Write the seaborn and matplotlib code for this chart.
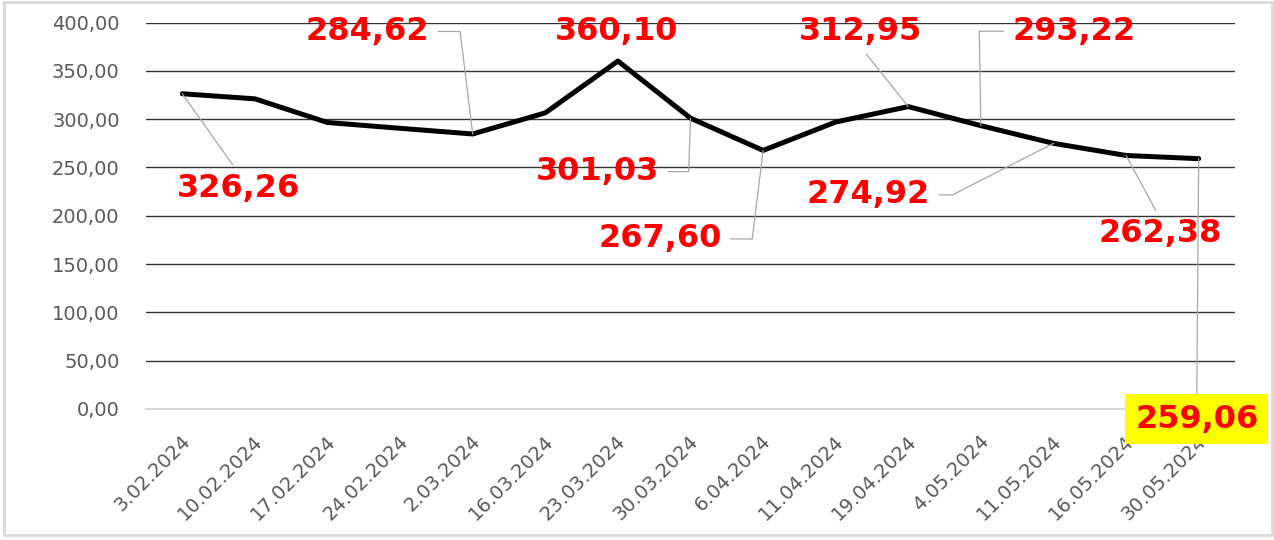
import matplotlib
matplotlib.use('Agg')
import matplotlib.pyplot as plt
import matplotlib.transforms as mtransforms
from matplotlib.patches import Rectangle
import seaborn as sns

# data
dates = ["3.02.2024", "10.02.2024", "17.02.2024", "24.02.2024", "2.03.2024",
         "16.03.2024", "23.03.2024", "30.03.2024", "6.04.2024", "11.04.2024",
         "19.04.2024", "4.05.2024", "11.05.2024", "16.05.2024", "30.05.2024"]
prices = [326.26, 321.0, 296.5, 290.5, 284.62,
          306.5, 360.10, 301.03, 267.60, 297.0,
          312.95, 293.22, 274.92, 262.38, 259.06]
yticks = [0, 50, 100, 150, 200, 250, 300, 350, 400]

# which points get a value label
labeled = [0, 4, 6, 7, 8, 10, 11, 12, 13, 14]

# label placement (pixel offsets of text baseline-centre from the point) and leader style
label_style = {
    0:  dict(off=(56, -103), relpos=(0.5, 1.0), conn="arc3"),
    4:  dict(off=(-105, 94), relpos=(1.0, 0.5), conn="angle,angleA=0,angleB=97,rad=0"),
    6:  dict(off=(-1, 21), relpos=None, conn=None),
    7:  dict(off=(-93, -62), relpos=(1.0, 0.5), conn="angle,angleA=0,angleB=88,rad=0"),
    8:  dict(off=(-103, -97), relpos=(1.0, 0.5), conn="angle,angleA=0,angleB=83,rad=0"),
    10: dict(off=(-48, 67), relpos=(0.5, 0.0), conn="arc3"),
    11: dict(off=(93, 86), relpos=(0.0, 0.5), conn="angle,angleA=0,angleB=91,rad=0"),
    12: dict(off=(-185, -60), relpos=(1.0, 0.5), conn="angle,angleA=0,angleB=27,rad=0"),
    13: dict(off=(34, -87), relpos=(0.5, 1.0), conn="arc3"),
    14: dict(off=(-2, -269), relpos=(0.5, 1.0), conn="arc3"),
}

sns.set_style('white')
plt.rcParams['font.family'] = ['DejaVu Sans']

fig = plt.figure(figsize=(12.74, 5.40), dpi=100)
ax = fig.add_axes([146 / 1274, 1 - 409 / 540, (1235 - 146) / 1274, (409 - 22.5) / 540])

x = list(range(len(dates)))
sns.lineplot(x=x, y=prices, ax=ax, color='black', linewidth=3.6, zorder=3)
ax.lines[0].set_solid_joinstyle('round')

ax.set_xlim(-0.5, len(dates) - 0.5)
ax.set_ylim(0, 400)

# y axis
ax.set_yticks(yticks)
ax.set_yticklabels([f"{v:.2f}".replace('.', ',') for v in yticks])
ax.tick_params(axis='y', length=0, pad=19, labelsize=14, labelcolor='#595959')
ax.yaxis.grid(True, color='#333333', linewidth=1.0)
ax.set_axisbelow(True)

# x axis: labels at category centres, tick marks between categories
ax.set_xticks(x)
ax.set_xticklabels(dates, rotation=45, ha='right', va='center', rotation_mode='anchor')
ax.set_xticks([i - 0.5 for i in range(len(dates) + 1)], minor=True)
ax.tick_params(axis='x', which='major', length=0, pad=21, labelsize=14, labelcolor='#595959')
ax.tick_params(axis='x', which='minor', length=7, width=1.2, color='#d9d9d9', direction='out')
shift = mtransforms.ScaledTranslation(5 / 100, 0, fig.dpi_scale_trans)
for lab in ax.get_xticklabels():
    lab.set_transform(lab.get_transform() + shift)

for side in ['left', 'right', 'top']:
    ax.spines[side].set_visible(False)
ax.spines['bottom'].set_color('#d9d9d9')
ax.spines['bottom'].set_linewidth(1.5)
ax.spines['bottom'].set_zorder(2.6)

# value labels
for i in labeled:
    st = label_style[i]
    txt = f"{prices[i]:.2f}".replace('.', ',')
    kw = dict(xy=(x[i], prices[i]), xytext=st['off'], textcoords='offset pixels',
              ha='center', va='baseline', color='red', fontsize=23, fontweight='bold',
              annotation_clip=False, zorder=5)
    if st['conn'] is not None:
        kw['arrowprops'] = dict(arrowstyle='-', color='#a6a6a6', lw=0.9,
                                connectionstyle=st['conn'], relpos=st['relpos'],
                                shrinkA=4, shrinkB=0)
    if i == len(dates) - 1:
        kw['bbox'] = dict(boxstyle='square,pad=0.3', fc='yellow', ec='none')
        kw['arrowprops']['shrinkA'] = 0
    ax.annotate(txt, **kw)

# light grey chart border
fig.patches.append(Rectangle((4 / 1274, 5 / 540), 1268 / 1274, 533 / 540,
                             transform=fig.transFigure, fill=False,
                             edgecolor='#d9d9d9', linewidth=2))

plt.savefig('out.png', dpi=100)
plt.close()
